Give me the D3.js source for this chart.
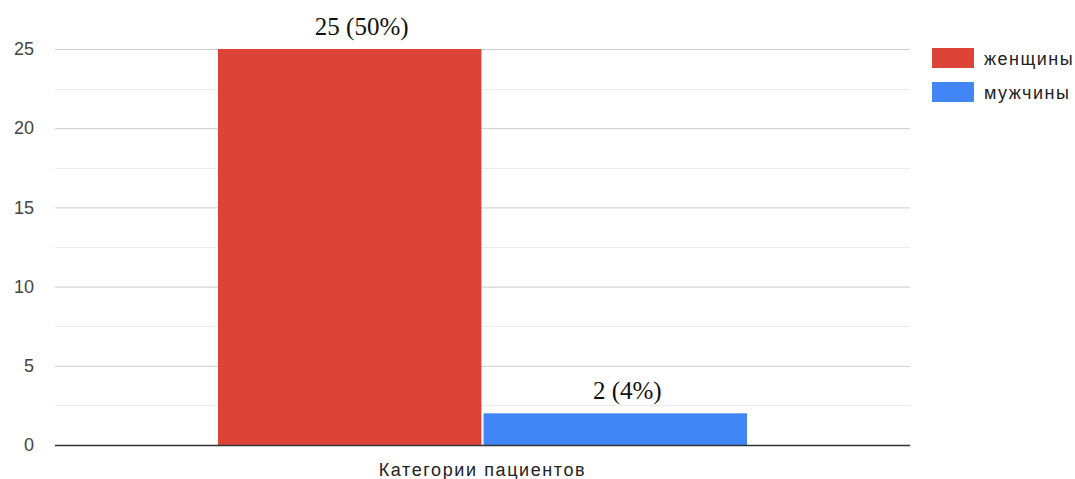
<!DOCTYPE html>
<html>
<head>
<meta charset="utf-8">
<script src="https://cdn.jsdelivr.net/npm/d3@7"></script>
<style>
  html, body { margin: 0; padding: 0; background: #fff; }
  svg { display: block; }
</style>
</head>
<body>
<svg id="chart" width="1075" height="479"></svg>
<script>
// Patient categories by sex
const category = "Категории пациентов";
const seriesNames = ["женщины", "мужчины"];
const seriesValues = [25, 2];
const seriesLabels = ["25 (50%)", "2 (4%)"];
const seriesColors = ["#db4437", "#4285f4"];
const yTicks = [0, 5, 10, 15, 20, 25];

const svg = d3.select("#chart");
const plot = { left: 55, right: 910, top: 49, bottom: 445 };
const sans = "Arial, 'Liberation Sans', sans-serif";

const y = d3.scaleLinear().domain([0, 25]).range([plot.bottom, plot.top]);
const xOuter = d3.scaleBand().domain([category]).range([plot.left, plot.right]).paddingInner(0).paddingOuter(0.308);
const xInner = d3.scaleBand().domain(seriesNames).range([0, xOuter.bandwidth()]).paddingInner(0.008);

// minor gridlines
const minor = d3.range(2.5, 25, 5);
svg.append("g").selectAll("line").data(minor).join("line")
  .attr("x1", plot.left).attr("x2", plot.right)
  .attr("y1", d => Math.round(y(d)) + 0.5).attr("y2", d => Math.round(y(d)) + 0.5)
  .attr("stroke", "#ebebeb").attr("stroke-width", 1);

// major gridlines + tick labels
const yAxis = d3.axisLeft(y).tickValues(yTicks).tickSize(-(plot.right - plot.left)).tickPadding(21);
const gy = svg.append("g").attr("transform", `translate(${plot.left},0)`).call(yAxis);
gy.select(".domain").remove();
gy.selectAll(".tick line").attr("stroke", "#cccccc").attr("stroke-width", 1);
gy.selectAll(".tick text")
  .attr("fill", "#444").style("font-family", sans).style("font-size", "18px");

// bars
const g = svg.append("g").attr("transform", `translate(${xOuter(category)},0)`);
g.selectAll("rect").data(seriesNames).join("rect")
  .attr("x", d => xInner(d))
  .attr("width", xInner.bandwidth())
  .attr("y", (d, i) => y(seriesValues[i]))
  .attr("height", (d, i) => y(0) - y(seriesValues[i]))
  .attr("fill", (d, i) => seriesColors[i]);

// value labels (set slightly right of the bar centre)
g.selectAll("text.val").data(seriesNames).join("text")
  .attr("class", "val")
  .attr("x", d => xInner(d) + xInner.bandwidth() / 2 + 12)
  .attr("y", (d, i) => y(seriesValues[i]) - 14)
  .attr("text-anchor", "middle")
  .attr("fill", "#111")
  .style("font-family", "'Liberation Serif', 'Times New Roman', serif")
  .style("font-size", "25px")
  .text((d, i) => seriesLabels[i]);

// baseline
svg.append("line")
  .attr("x1", plot.left).attr("x2", plot.right)
  .attr("y1", y(0) + 0.5).attr("y2", y(0) + 0.5)
  .attr("stroke", "#333").attr("stroke-width", 1.3);

// x axis title
svg.append("text")
  .attr("x", xOuter(category) + xOuter.bandwidth() / 2)
  .attr("y", 476)
  .attr("text-anchor", "middle")
  .attr("fill", "#222")
  .style("font-family", sans)
  .style("font-size", "18px")
  .style("letter-spacing", "1.6px")
  .text(category);

// legend
const legend = svg.append("g").attr("transform", "translate(932,48)");
const items = legend.selectAll("g").data(seriesNames).join("g")
  .attr("transform", (d, i) => `translate(0,${i * 34})`);
items.append("rect").attr("width", 42).attr("height", 20).attr("fill", (d, i) => seriesColors[i]);
items.append("text")
  .attr("x", 52).attr("y", 17)
  .attr("fill", "#222")
  .style("font-family", sans)
  .style("font-size", "18px")
  .style("letter-spacing", "1.5px")
  .text(d => d);
</script>
</body>
</html>
